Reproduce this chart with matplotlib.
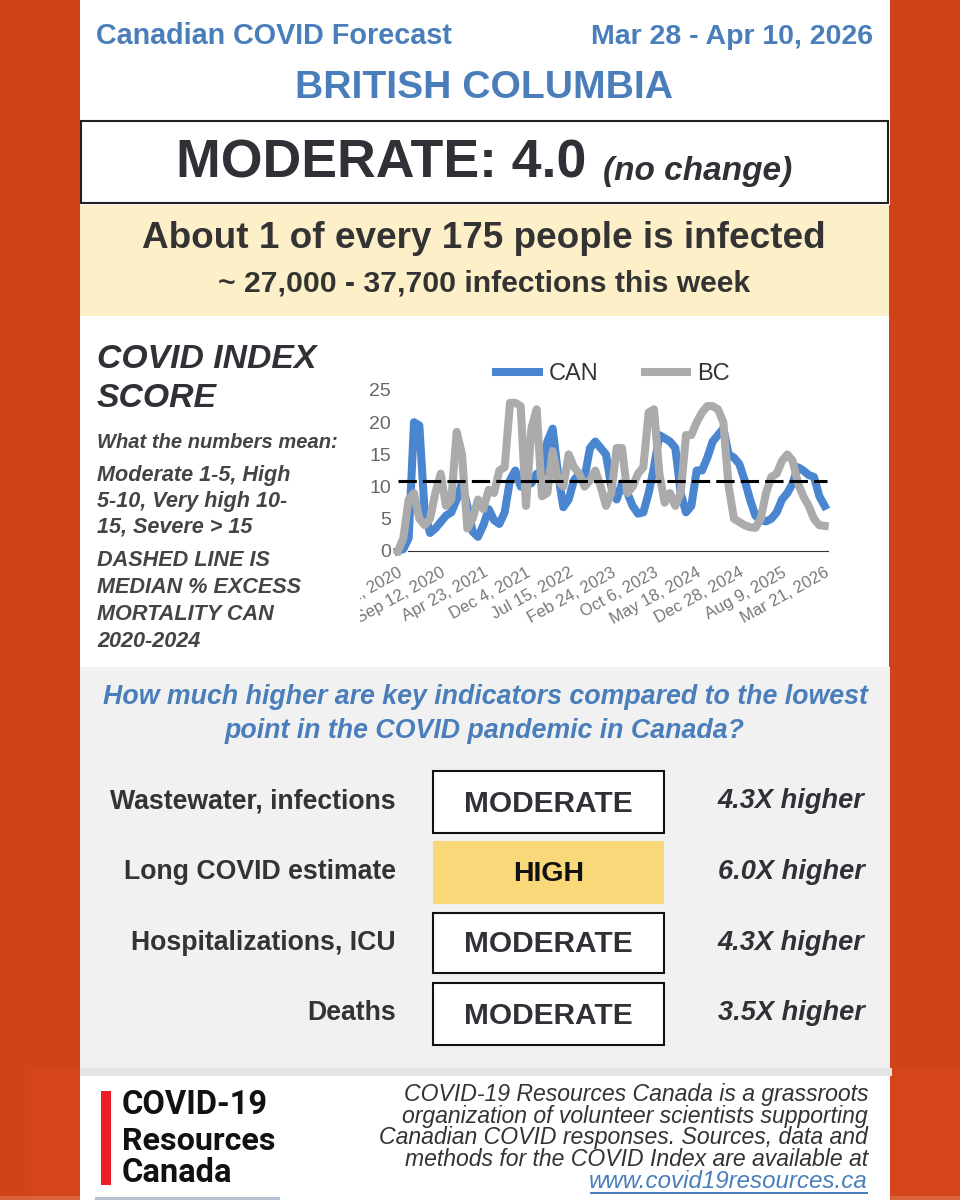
"""Canadian COVID forecast card for British Columbia."""

import matplotlib.pyplot as plt
from matplotlib.patches import Rectangle
from matplotlib.transforms import Bbox

# index values, one every two steps
week_index = list(range(0, 161, 2))
can_values = [
    0, 0.3, 2, 20, 19.5, 6, 2.8, 3.5, 4.5, 5.5, 6, 8, 10.5, 7, 3, 2.2,
    4, 6.5, 4.8, 4.2, 6, 11, 12.5, 10, 11, 10.5, 12, 12, 17, 19, 12, 6.8,
    8, 11, 12, 11.5, 16, 17, 16, 15, 10, 8, 10.5, 9, 7, 5.8, 6, 9,
    13, 18, 17.5, 17, 16, 9, 6, 7, 12.5, 12.5, 14.5, 17, 18, 19, 15, 14.5,
    13.5, 11, 8, 5.5, 4.8, 4.6, 5, 6, 8, 9, 10.5, 13, 12.5, 11.8, 11.5, 8.5,
    7,
]
bc_values = [
    0, 2, 8, 9, 5, 4, 5, 9, 12, 7, 8, 18.5, 15, 3.5, 5, 8,
    6.5, 9.5, 9, 12.5, 13, 23, 23, 22.5, 7, 19, 22, 8.5, 9, 15.5, 11, 10,
    15, 13, 12, 10, 11, 12.5, 10, 7, 9, 16, 16, 9, 10, 12, 13, 21.5,
    22, 12, 7.5, 9, 7, 9, 18, 18, 20, 21.5, 22.5, 22.5, 22, 20, 10, 5,
    4.5, 4, 3.7, 3.6, 5, 9, 11.5, 12, 14, 15, 14, 10.5, 8.5, 7, 5, 4,
    3.9,
]
median_excess = 10.8
y_ticks = [0, 5, 10, 15, 20, 25]
date_ticks = [0, 16, 32, 48, 64, 80, 96, 112, 128, 144, 160]
date_labels = [
    "Jan 31, 2020", "Sep 12, 2020", "Apr 23, 2021", "Dec 4, 2021",
    "Jul 15, 2022", "Feb 24, 2023", "Oct 6, 2023", "May 18, 2024",
    "Dec 28, 2024", "Aug 9, 2025", "Mar 21, 2026",
]

indicator_names = [
    "Wastewater, infections", "Long COVID estimate",
    "Hospitalizations, ICU", "Deaths",
]
indicator_levels = ["MODERATE", "HIGH", "MODERATE", "MODERATE"]
indicator_ratios = ["4.3X higher", "6.0X higher", "4.3X higher", "3.5X higher"]
indicator_tops = [771, 841, 913, 983]
indicator_bottoms = [833, 904, 973, 1045]

legend_text = ["Moderate 1-5, High", "5-10, Very high 10-", "15, Severe > 15"]
dashed_text = ["DASHED LINE IS", "MEDIAN % EXCESS", "MORTALITY CAN", "2020-2024"]
footer_text = [
    "COVID-19 Resources Canada is a grassroots",
    "organization of volunteer scientists supporting",
    "Canadian COVID responses. Sources, data and",
    "methods for the COVID Index are available at",
]

ORANGE = "#D0421A"
BLUE = "#4A7EBB"
DARK = "#2F3136"
FONT = "Liberation Sans"

plt.rcParams["font.family"] = FONT

fig = plt.figure(figsize=(9.6, 12), dpi=100, facecolor=ORANGE)

# whole card drawn in pixel coordinates
card = fig.add_axes([0, 0, 1, 1])
card.set_xlim(0, 960)
card.set_ylim(1200, 0)
card.axis("off")


def box(x0, y0, x1, y1, color, edge="none", lw=0, z=1):
    card.add_patch(Rectangle((x0, y0), x1 - x0, y1 - y0, facecolor=color,
                             edgecolor=edge, linewidth=lw, zorder=z))


def label(x, y, text, size, color=DARK, ha="left", weight="normal", style="normal", **kw):
    return card.text(x, y + 2.5, text, fontsize=size, color=color, ha=ha, va="center",
                     fontweight=weight, fontstyle=style, zorder=5, **kw)


# backgrounds
box(25, 1070, 80, 1196, "#D4461A")
box(890, 1070, 960, 1196, "#D4461A")
box(0, 1196, 960, 1200, "#D8623A")
box(80, 0, 890, 205, "white")
box(80, 205, 889, 316, "#FDEFC8")
box(80, 316, 889, 667, "white")
box(80, 667, 890, 1068, "#F1F1F1")
box(80, 1068, 892, 1076, "#E4E4E4")
box(80, 1076, 890, 1200, "white")
box(95, 1197, 280, 1200, "#B7C3D0")

# header
label(96, 34, "Canadian COVID Forecast", 20.7, BLUE, weight="bold")
label(873, 34, "Mar 28 - Apr 10, 2026", 20.5, BLUE, ha="right", weight="bold")
label(484, 85, "BRITISH COLUMBIA", 28.2, BLUE, ha="center", weight="bold")

box(81, 121, 888, 203, "white", edge="#222222", lw=1.5, z=2)
label(176, 161, "MODERATE: 4.0", 38.6, weight="bold")
label(603, 169, "(no change)", 24, weight="bold", style="italic")

label(484, 236, "About 1 of every 175 people is infected", 26.6, "#333333", ha="center", weight="bold")
label(484, 281, "~ 27,000 - 37,700 infections this week", 21.7, "#333333", ha="center", weight="bold")

# left column beside the chart
label(97, 357, "COVID INDEX", 24.3, weight="bold", style="italic")
label(97, 396, "SCORE", 24.3, weight="bold", style="italic")
label(97, 440, "What the numbers mean:", 14.5, "#444444", weight="bold", style="italic")
for i, line in enumerate(legend_text):
    label(97, 473 + i * 26, line, 15.6, "#444444", weight="bold", style="italic")
for i, line in enumerate(dashed_text):
    label(97, 558 + i * 27, line, 15.6, "#444444", weight="bold", style="italic")

# indicators
label(485, 695, "How much higher are key indicators compared to the lowest", 19.3, BLUE,
      ha="center", weight="bold", style="italic")
label(485, 728, "point in the COVID pandemic in Canada?", 19.3, BLUE,
      ha="center", weight="bold", style="italic")
for name, level, ratio, top, bottom in zip(indicator_names, indicator_levels, indicator_ratios,
                                           indicator_tops, indicator_bottoms):
    mid = (top + bottom) / 2
    label(396, mid - 3, name, 19.2, "#333333", ha="right", weight="bold")
    if level == "HIGH":
        box(433, top, 664, bottom, "#F8D878", z=2)
    else:
        box(433, top, 664, bottom, "white", edge="#111111", lw=1.5, z=2)
    label(548.5, mid - 1, level, 21.5 if level != "HIGH" else 20.5, ha="center", weight="bold",
          color=DARK if level != "HIGH" else "#111111")
    label(791, mid - 3, ratio, 19.6, ha="center", weight="bold", style="italic")

# footer
box(101, 1091, 111, 1185, "#EE1C25", z=2)
label(122, 1103, "COVID-19", 23.5, "#111111", weight="bold", family="Roboto")
label(122, 1138, "Resources", 23.2, "#111111", weight="bold", family="Roboto")
label(122, 1171, "Canada", 23.5, "#111111", weight="bold", family="Roboto")
for i, line in enumerate(footer_text):
    label(868, 1092 + i * 21.7, line, 16.6, "#333333", ha="right", style="italic")
label(868, 1179, "www.covid19resources.ca", 17.4, BLUE, ha="right", style="italic")
box(590, 1192, 868, 1194, BLUE, z=2)

# the chart itself
ax = fig.add_axes([398 / 960, (1200 - 551) / 1200, 430 / 960, 161 / 1200], facecolor="none")
ax.plot(week_index, can_values, color="#4A86D0", lw=5.8, clip_on=False, solid_joinstyle="round",
        label="CAN")
ax.plot(week_index, bc_values, color="#ABABAB", lw=5.8, clip_on=False, solid_joinstyle="round",
        label="BC")
ax.plot([week_index[0], week_index[-1] + 1], [median_excess, median_excess], color="black",
        lw=2.2, dashes=(6, 2), clip_on=False)
for side in ["top", "right", "left"]:
    ax.spines[side].set_visible(False)
ax.spines["bottom"].set_color("#333333")
ax.spines["bottom"].set_bounds(3.75, 161.25)
ax.tick_params(length=0, labelcolor="#666666", labelsize=14, pad=5)
ax.set_yticks(y_ticks)
ax.set_xticks(date_ticks, date_labels, rotation=29, ha="right", rotation_mode="anchor")
ax.tick_params(axis="x", labelcolor="#777777", labelsize=12, pad=10)
# limits after the ticks, set_xticks widens the view otherwise
ax.set_xlim(0, 161.25)
ax.set_ylim(0, 25)
visible = Bbox.from_extents(360, 0, 900, 1200)
for tick_label in ax.get_xticklabels():
    tick_label.set_clip_box(visible)
    tick_label.set_clip_on(True)
ax.legend(loc="lower center", bbox_to_anchor=(0.5, 0.955), ncol=2, frameon=False, fontsize=17,
          labelcolor="#333333", handlelength=1.8, handletextpad=0.42, columnspacing=1.95,
          borderpad=0)

fig.savefig("out.png", dpi=100, facecolor=fig.get_facecolor())
